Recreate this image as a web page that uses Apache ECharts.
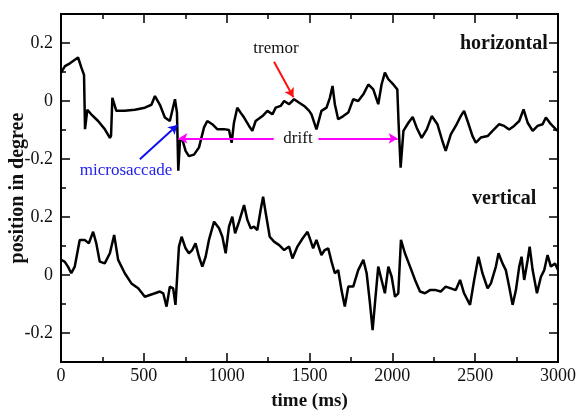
<!DOCTYPE html>
<html>
<head>
<meta charset="utf-8">
<script src="https://cdn.jsdelivr.net/npm/echarts@6/dist/echarts.min.js"></script>
<style>
  html, body { margin: 0; padding: 0; background: #fff; }
  #chart { width: 579px; height: 410px; }
</style>
</head>
<body>
<div id="chart"></div>
<script>
// horizontal eye position (deg), drawn shifted up by H_OFFSET on the shared axis
const hTime = [0, 24, 54, 103, 123, 139, 145, 159, 181, 224, 264, 295, 302, 310, 334, 385, 446, 506, 546, 567, 597, 627, 657, 688, 700, 708, 718, 732, 752, 772, 803, 833, 863, 883, 913, 943, 984, 1014, 1030, 1044, 1064, 1084, 1105, 1135, 1155, 1175, 1216, 1246, 1276, 1296, 1326, 1347, 1377, 1407, 1438, 1468, 1498, 1512, 1542, 1572, 1603, 1623, 1639, 1653, 1673, 1704, 1734, 1764, 1794, 1825, 1855, 1885, 1915, 1935, 1955, 1976, 2006, 2030, 2038, 2050, 2067, 2097, 2123, 2147, 2177, 2208, 2238, 2272, 2302, 2322, 2353, 2383, 2413, 2433, 2454, 2484, 2504, 2534, 2575, 2605, 2645, 2675, 2705, 2735, 2766, 2792, 2817, 2847, 2877, 2907, 2927, 2957, 2988, 3000]
const hValue = [0.098, 0.12, 0.13, 0.15, 0.115, 0.09, -0.097, -0.03, -0.045, -0.069, -0.097, -0.127, -0.12, 0.011, -0.034, -0.034, -0.03, -0.023, -0.013, 0.017, -0.013, -0.057, -0.069, 0.006, -0.04, -0.24, -0.138, -0.132, -0.172, -0.19, -0.185, -0.16, -0.092, -0.069, -0.08, -0.097, -0.097, -0.1, -0.144, -0.075, -0.023, -0.04, -0.057, -0.086, -0.103, -0.069, -0.052, -0.034, -0.046, -0.023, -0.017, 0, -0.011, 0.006, -0.006, -0.017, -0.034, -0.046, -0.098, -0.034, -0.023, 0.011, 0.052, -0.011, -0.063, -0.052, -0.04, 0.006, 0, 0.023, 0.057, 0.04, -0.011, 0.057, 0.098, 0.075, 0.057, 0.04, -0.08, -0.23, -0.103, -0.075, -0.055, -0.092, -0.127, -0.098, -0.052, -0.08, -0.138, -0.172, -0.115, -0.086, -0.052, -0.034, -0.069, -0.121, -0.144, -0.126, -0.121, -0.103, -0.08, -0.086, -0.098, -0.086, -0.069, -0.029, -0.075, -0.103, -0.086, -0.08, -0.057, -0.08, -0.098, -0.103]

// vertical eye position (deg)
const vTime = [0, 22, 42, 62, 83, 113, 143, 168, 194, 213, 234, 264, 295, 321, 345, 385, 425, 466, 506, 536, 567, 597, 617, 637, 657, 677, 691, 712, 728, 752, 772, 792, 812, 833, 853, 873, 893, 924, 954, 974, 994, 1014, 1034, 1051, 1075, 1105, 1125, 1145, 1165, 1185, 1205, 1220, 1236, 1260, 1286, 1317, 1347, 1377, 1397, 1427, 1458, 1488, 1502, 1522, 1542, 1572, 1592, 1613, 1633, 1653, 1673, 1693, 1713, 1734, 1764, 1794, 1825, 1845, 1865, 1881, 1895, 1915, 1935, 1955, 1976, 1996, 2016, 2036, 2052, 2076, 2107, 2137, 2167, 2197, 2227, 2262, 2292, 2322, 2353, 2383, 2409, 2433, 2469, 2494, 2520, 2544, 2575, 2595, 2625, 2641, 2665, 2685, 2705, 2726, 2746, 2766, 2780, 2796, 2817, 2829, 2847, 2873, 2897, 2917, 2937, 2957, 2982, 3000]
const vValue = [0.052, 0.046, 0.029, 0.006, 0.029, 0.121, 0.121, 0.109, 0.149, 0.109, 0.046, 0.04, 0.075, 0.138, 0.052, 0.006, -0.029, -0.046, -0.075, -0.069, -0.063, -0.057, -0.063, -0.109, -0.04, -0.046, -0.103, 0.098, 0.132, 0.092, 0.075, 0.086, 0.109, 0.063, 0.029, 0.063, 0.121, 0.184, 0.161, 0.132, 0.075, 0.167, 0.201, 0.144, 0.184, 0.241, 0.19, 0.161, 0.167, 0.155, 0.224, 0.27, 0.213, 0.132, 0.115, 0.103, 0.086, 0.098, 0.057, 0.098, 0.126, 0.149, 0.126, 0.092, 0.121, 0.069, 0.086, 0.092, 0.046, 0.006, 0.017, -0.052, -0.109, -0.04, -0.04, 0.017, 0.052, 0.006, -0.098, -0.19, -0.098, 0.029, -0.017, -0.063, 0.029, -0.006, -0.075, -0.063, 0.121, 0.075, 0.029, -0.017, -0.057, -0.063, -0.052, -0.052, -0.057, -0.04, -0.046, -0.052, -0.017, -0.063, -0.103, -0.017, 0.063, 0.006, -0.046, -0.029, 0.029, 0.075, 0.04, 0.017, -0.04, -0.103, -0.052, 0.029, 0.063, -0.017, 0.052, 0.098, 0.017, -0.063, -0.006, 0.017, 0.069, 0.029, 0.04, 0.017]

const H_OFFSET = 0.6
const yMajor = [-0.2, 0, 0.2, 0.4, 0.6, 0.8]
const yMinor = [-0.1, 0.1, 0.3, 0.5, 0.7]

// annotation arrows: [time, shifted position]
const driftLeft = [[1284, 0.471], [709, 0.471]]
const driftRight = [[1554, 0.471], [2032, 0.471]]
const saccadeArrow = [[476, 0.399], [703, 0.517]]
const tremorArrow = [[1286, 0.7355], [1403, 0.613]]

const serif = "'Liberation Serif', 'Times New Roman', serif"

function yLabel(v) {
  let d = v > 0.3 ? v - H_OFFSET : v
  d = Math.round(d * 10) / 10
  return d === 0 ? '0' : String(d)
}

function arrow(pts, color) {
  return [
    { coord: pts[0], symbol: 'none', lineStyle: { color: color, width: 2, type: 'solid' } },
    { coord: pts[1], symbol: 'arrow', symbolSize: [8, 9] }
  ]
}

const chart = echarts.init(document.getElementById('chart'))

const lineStyle = { color: '#000', width: 2 }
const tickStyle = { color: '#000', width: 1.5 }

function yAxisSide(pos, values, len, showLabel) {
  return {
    type: 'value',
    position: pos,
    min: -0.3,
    max: 0.9,
    axisLine: { show: true, onZero: false, lineStyle: lineStyle },
    axisTick: { show: true, inside: true, length: len, customValues: values, lineStyle: tickStyle },
    axisLabel: showLabel ? {
      show: true, customValues: values, formatter: yLabel,
      color: '#111', fontFamily: serif, fontSize: 18, margin: 8
    } : { show: false },
    splitLine: { show: false }
  }
}

function xAxisSide(pos, showLabel) {
  return {
    type: 'value',
    position: pos,
    min: 0,
    max: 3000,
    interval: 500,
    axisLine: { onZero: false, lineStyle: lineStyle },
    axisTick: { inside: true, length: 9, lineStyle: tickStyle },
    minorTick: { show: true, splitNumber: 2, length: 5, lineStyle: tickStyle },
    axisLabel: showLabel ? {
      color: '#111', fontFamily: serif, fontSize: 18, margin: 5,
      formatter: v => String(v)
    } : { show: false },
    splitLine: { show: false },
    minorSplitLine: { show: false }
  }
}

const left = yAxisSide('left', yMajor, 9, true)
left.name = 'position in degree'
left.nameLocation = 'middle'
left.nameGap = 33
left.nameMoveOverlap = false
left.nameTextStyle = { fontFamily: serif, fontWeight: 'bold', fontSize: 20, color: '#111' }

const bottom = xAxisSide('bottom', true)
bottom.name = 'time (ms)'
bottom.nameLocation = 'middle'
bottom.nameGap = 30
bottom.nameTextStyle = { fontFamily: serif, fontWeight: 'bold', fontSize: 19, color: '#111' }

chart.setOption({
  backgroundColor: '#fff',
  animation: false,
  grid: { left: 61, right: 21, top: 14, bottom: 48, containLabel: false, outerBoundsMode: 'none' },
  xAxis: [bottom, xAxisSide('top', false)],
  yAxis: [
    left,
    yAxisSide('left', yMinor, 5, false),
    yAxisSide('right', yMajor, 9, false),
    yAxisSide('right', yMinor, 5, false)
  ],
  series: [
    {
      name: 'horizontal',
      type: 'line',
      showSymbol: false,
      lineStyle: { color: '#000', width: 2.5 },
      data: hTime.map((t, i) => [t, hValue[i] + H_OFFSET]),
      markLine: {
        silent: true,
        animation: false,
        label: { show: false },
        data: [
          arrow(driftLeft, '#ff00ff'),
          arrow(driftRight, '#ff00ff'),
          arrow(saccadeArrow, '#1010ee'),
          arrow(tremorArrow, '#ff1010')
        ]
      }
    },
    {
      name: 'vertical',
      type: 'line',
      showSymbol: false,
      lineStyle: { color: '#000', width: 2.5 },
      data: vTime.map((t, i) => [t, vValue[i]])
    }
  ],
  graphic: [
    { type: 'text', x: 460, y: 44, style: { text: 'horizontal', font: 'bold 20px ' + serif, fill: '#111', textVerticalAlign: 'middle' } },
    { type: 'text', x: 472, y: 199, style: { text: 'vertical', font: 'bold 20px ' + serif, fill: '#111', textVerticalAlign: 'middle' } },
    { type: 'text', x: 276, y: 49, style: { text: 'tremor', font: '17px ' + serif, fill: '#111', textAlign: 'center', textVerticalAlign: 'middle' } },
    { type: 'text', x: 298, y: 139, style: { text: 'drift', font: '17px ' + serif, fill: '#111', textAlign: 'center', textVerticalAlign: 'middle' } },
    { type: 'text', x: 126, y: 171, style: { text: 'microsaccade', font: '17px ' + serif, fill: '#2222ee', textAlign: 'center', textVerticalAlign: 'middle' } }
  ]
})
</script>
</body>
</html>
